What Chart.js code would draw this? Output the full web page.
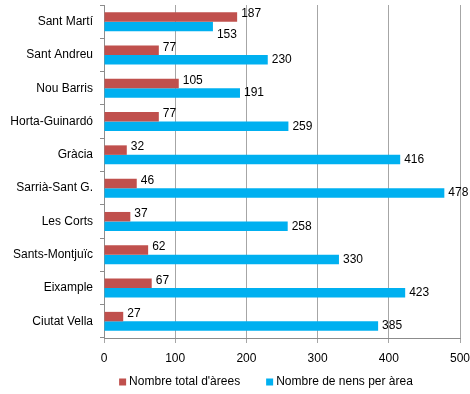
<!DOCTYPE html>
<html>
<head>
<meta charset="utf-8">
<script src="https://cdn.jsdelivr.net/npm/chart.js@4"></script>
<style>
  html, body { margin: 0; padding: 0; background: #fff; }
  #wrap { width: 470px; height: 394px; }
</style>
</head>
<body>
<div id="wrap"><canvas id="chart"></canvas></div>
<script>
// districts, top to bottom
const districts = ['Sant Martí', 'Sant Andreu', 'Nou Barris', 'Horta-Guinardó', 'Gràcia',
    'Sarrià-Sant G.', 'Les Corts', 'Sants-Montjuïc', 'Eixample', 'Ciutat Vella'];
const totalAreas = [187, 77, 105, 77, 32, 46, 37, 62, 67, 27];
const kidsPerArea = [153, 230, 191, 259, 416, 478, 258, 330, 423, 385];
const xTicks = [0, 100, 200, 300, 400, 500];

const FONT = 'Liberation Sans, Arial, sans-serif';

// value labels at the end of each bar
const barLabels = {
    id: 'barLabels',
    afterDatasetsDraw(chart) {
        const ctx = chart.ctx;
        ctx.save();
        ctx.font = '12px ' + FONT;
        ctx.fillStyle = '#000';
        ctx.textBaseline = 'middle';
        const red = chart.getDatasetMeta(0).data;
        chart.data.datasets.forEach((ds, i) => {
            chart.getDatasetMeta(i).data.forEach((bar, j) => {
                const txt = String(ds.data[j]);
                let x = bar.x + 4;
                let y = bar.y + (i === 0 ? -3 : 0);
                if (i === 1) {
                    const w = ctx.measureText(txt).width;
                    if (x + w > red[j].x - 2 && x < red[j].x + 30) y += 8;
                }
                ctx.fillText(txt, x, y);
            });
        });
        ctx.restore();
    }
};

// legend row under the axis, Excel style spacing
const bottomLegend = {
    id: 'bottomLegend',
    afterDraw(chart) {
        const ctx = chart.ctx;
        ctx.save();
        ctx.font = '12px ' + FONT;
        ctx.textBaseline = 'middle';
        const items = chart.data.datasets.map(ds => ({
            text: ds.label, color: ds.backgroundColor, w: ctx.measureText(ds.label).width
        }));
        const box = 7, gapText = 3, gapItem = 26;
        const total = items.reduce((s, it) => s + box + gapText + it.w, 0) + gapItem * (items.length - 1);
        let x = 266 - total / 2;
        const y = 382;
        items.forEach(it => {
            ctx.fillStyle = it.color;
            ctx.fillRect(x, y - box / 2, box, box);
            ctx.fillStyle = '#000';
            ctx.fillText(it.text, x + box + gapText, y);
            x += box + gapText + it.w + gapItem;
        });
        ctx.restore();
    }
};

new Chart(document.getElementById('chart'), {
    type: 'bar',
    data: {
        labels: districts,
        datasets: [{
            label: "Nombre total d'àrees",
            data: totalAreas,
            backgroundColor: '#C0504D'
        }, {
            label: 'Nombre de nens per àrea',
            data: kidsPerArea,
            backgroundColor: '#00B0F0'
        }]
    },
    options: {
        indexAxis: 'y',
        responsive: true,
        maintainAspectRatio: false,
        animation: false,
        layout: { padding: { top: 5, right: 10, left: 0, bottom: 0 } },
        datasets: {
            bar: { categoryPercentage: 0.57, barPercentage: 1.0 }
        },
        scales: {
            x: {
                min: 0, max: 500,
                afterBuildTicks: s => { s.ticks = xTicks.map(v => ({ value: v })); },
                afterFit: s => { s.height = 56; s.paddingLeft = 0; s.paddingRight = 0; },
                grid: { color: '#a6a6a6', tickLength: 5 },
                border: { color: '#8c8c8c' },
                ticks: { color: '#000', font: { family: FONT, size: 12 }, padding: 8 }
            },
            y: {
                afterFit: s => { s.width = 104; s.paddingTop = 0; s.paddingBottom = 0; },
                grid: { offset: true, drawOnChartArea: false, tickLength: 4, color: '#8c8c8c' },
                border: { color: '#8c8c8c' },
                ticks: { color: '#000', font: { family: FONT, size: 12 }, padding: 7 }
            }
        },
        plugins: {
            tooltip: { enabled: false },
            legend: { display: false }
        }
    },
    plugins: [barLabels, bottomLegend]
});
</script>
</body>
</html>
